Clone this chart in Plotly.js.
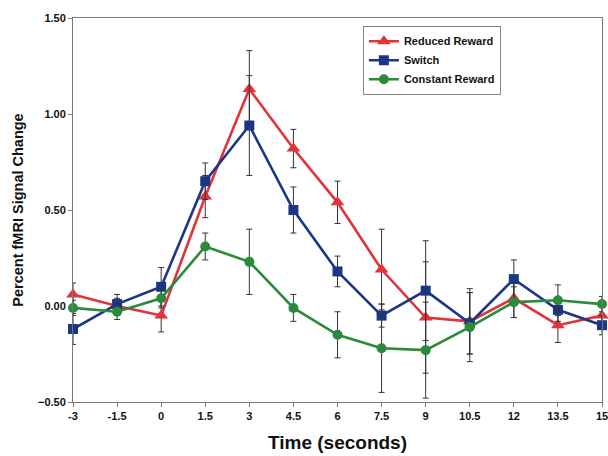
<!DOCTYPE html>
<html>
<head>
<meta charset="utf-8">
<script src="https://cdn.plot.ly/plotly-3.0.1.min.js"></script>
<style>html,body{margin:0;padding:0;background:#fff;}#chart{width:608px;height:456px;}</style>
</head>
<body>
<div id="chart"></div>
<script>
const time = [-3, -1.5, 0, 1.5, 3, 4.5, 6, 7.5, 9, 10.5, 12, 13.5, 15];
const reducedReward = [0.06, 0.00, -0.05, 0.57, 1.13, 0.82, 0.54, 0.19, -0.06, -0.08, 0.04, -0.10, -0.05];
const reducedErr    = [0.06, 0.04, 0.085, 0.11, 0.20, 0.10, 0.11, 0.21, 0.29, 0.17, 0.10, 0.09, 0.05];
const switchVals    = [-0.12, 0.01, 0.10, 0.65, 0.94, 0.50, 0.18, -0.05, 0.08, -0.09, 0.14, -0.02, -0.10];
const switchErr     = [0.08, 0.05, 0.10, 0.095, 0.26, 0.12, 0.08, 0.06, 0.26, 0.16, 0.10, 0.06, 0.05];
const constantReward= [-0.01, -0.03, 0.04, 0.31, 0.23, -0.01, -0.15, -0.22, -0.23, -0.11, 0.02, 0.03, 0.01];
const constantErr   = [0.04, 0.04, 0.05, 0.07, 0.17, 0.07, 0.12, 0.23, 0.25, 0.18, 0.08, 0.08, 0.04];
const seriesNames = ["Reduced Reward", "Switch", "Constant Reward"];
const yTicks = [-0.5, 0, 0.5, 1.0, 1.5];
const xTicks = [-3, -1.5, 0, 1.5, 3, 4.5, 6, 7.5, 9, 10.5, 12, 13.5, 15];

const errStyle = {type: 'data', visible: true, color: '#333', thickness: 1, width: 3};
function tr(name, y, err, color, symbol, size) {
  return {
    x: time, y: y, name: name, type: 'scatter', mode: 'lines+markers',
    line: {color: color, width: 2.6},
    marker: {color: color, symbol: symbol, size: size},
    error_y: Object.assign({array: err}, errStyle),
    cliponaxis: false
  };
}
const data = [
  tr(seriesNames[0], reducedReward, reducedErr, '#e0333b', 'triangle-up', 12),
  tr(seriesNames[1], switchVals, switchErr, '#1b3784', 'square', 10),
  tr(seriesNames[2], constantReward, constantErr, '#2b8a3b', 'circle', 10)
];
const layout = {
  width: 608, height: 456,
  margin: {l: 73, r: 6, t: 18, b: 54},
  paper_bgcolor: '#fff', plot_bgcolor: '#fff',
  font: {family: 'Liberation Sans, Arial, sans-serif', color: '#111'},
  showlegend: true,
  legend: {
    x: 0.548, y: 0.98, xanchor: 'left', yanchor: 'top',
    bgcolor: '#fff', bordercolor: '#888', borderwidth: 1,
    font: {size: 11, family: 'Liberation Sans, Arial, sans-serif', color: '#111', weight: 'bold'},
    tracegroupgap: 0, itemwidth: 30
  },
  xaxis: {
    range: [-3, 15], tickvals: xTicks, ticktext: xTicks.map(String),
    ticklabeloverflow: 'allow',
    showgrid: false, zeroline: false, showline: true, linecolor: '#777', linewidth: 1,
    mirror: true, ticks: 'outside', ticklen: 4, tickcolor: '#777',
    tickfont: {size: 11, weight: 'bold', color: '#111'},
    title: {text: 'Time (seconds)', font: {size: 19, weight: 'bold', color: '#111'}, standoff: 14}
  },
  yaxis: {
    range: [-0.5, 1.5], tickvals: yTicks, tickformat: '.2f',
    showgrid: false, zeroline: false, showline: true, linecolor: '#777', linewidth: 1,
    mirror: true, ticks: 'outside', ticklen: 4, tickcolor: '#777',
    tickfont: {size: 11, weight: 'bold', color: '#111'},
    title: {text: 'Percent fMRI Signal Change', font: {size: 14.5, weight: 'bold', color: '#111'}, standoff: 10}
  }
};
Plotly.newPlot('chart', data, layout, {displayModeBar: false, staticPlot: true});
</script>
</body>
</html>
